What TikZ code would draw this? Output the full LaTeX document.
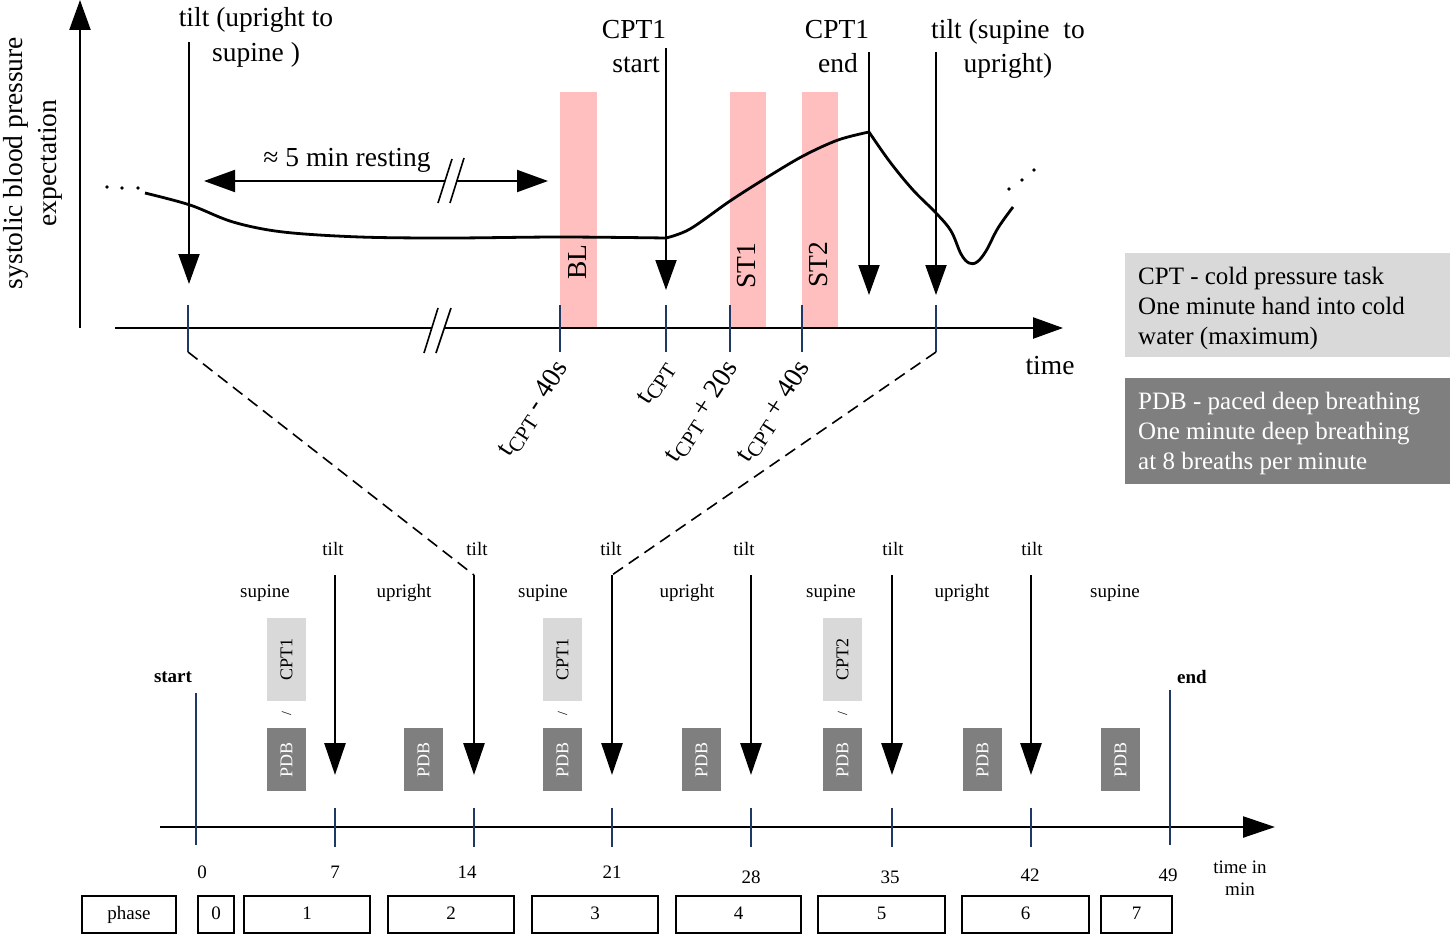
\documentclass[tikz,border=0pt]{standalone}
\usepackage{fontspec}
\setmainfont{Liberation Serif}
\usetikzlibrary{arrows.meta}
\definecolor{navy}{HTML}{1F3864}
\definecolor{pinkbar}{HTML}{FFBFBF}
\definecolor{lgray}{HTML}{D9D9D9}
\definecolor{dgray}{HTML}{7F7F7F}
\newcommand{\tcptsub}{t\raisebox{-5pt}{\fontsize{21}{21}\selectfont CPT}}
\begin{document}
\begin{tikzpicture}[x=1pt,y=-1pt,
  big/.style={font=\fontsize{27.5}{34}\selectfont, inner sep=0pt},
  leg/.style={font=\fontsize{25}{30}\selectfont, inner sep=0pt, anchor=base west},
  sm/.style={font=\fontsize{19}{23}\selectfont, inner sep=0pt},
  axisline/.style={line width=2.4pt},
  tiph/.style={-{Triangle[length=30pt,width=21pt]}},
  tickl/.style={navy, line width=2.4pt},
  downarr/.style={line width=2pt, -{Triangle[length=30pt,width=21pt]}},
  bigdown/.style={line width=2.8pt, -{Triangle[length=32pt,width=21pt]}},
  brk/.style={line width=1.6pt},
  dashline/.style={line width=1.6pt, dash pattern=on 12pt off 7pt},
  cptbox/.style={fill=lgray, rotate=90, minimum width=83pt, minimum height=39pt, inner sep=0pt, font=\fontsize{18}{22}\selectfont},
  pdbbox/.style={fill=dgray, text=white, rotate=90, minimum width=63pt, minimum height=39pt, inner sep=0pt, font=\fontsize{18}{22}\selectfont},
  phasebox/.style={draw, line width=1.4pt, minimum height=37pt, inner sep=0pt, text height=13pt, text depth=4pt, font=\fontsize{19}{23}\selectfont},
  ticklab/.style={big, rotate=57, anchor=east}
]
\useasboundingbox (0,0) rectangle (1450,934);

% ---------- top panel ----------
\fill[pinkbar] (560,92) rectangle (597,328);
\fill[pinkbar] (730,92) rectangle (766,328);
\fill[pinkbar] (802,92) rectangle (838,328);
\node[big, rotate=90] (bl) at (578,262) {BL};
\node[big, rotate=90] (st1) at (747,266) {ST1};
\node[big, rotate=90] (st2) at (819,265) {ST2};

% y axis
\coordinate (y0) at (80,328);
\coordinate (y1) at (80,0);
\draw[axisline,tiph] (y0) -- (y1);
\node[big, rotate=90, align=center] (ylab) at (33,163) {systolic blood pressure\\expectation};

% x axis with break
\coordinate (xa) at (115,328);
\coordinate (xb) at (432,328);
\coordinate (xc) at (445,328);
\coordinate (xd) at (1063,328);
\draw[axisline] (xa) -- (xb);
\draw[axisline,tiph] (xc) -- (xd);
\draw[brk] (424,353) -- (438,308) (436,353) -- (451,308);
\node[big, anchor=base] (timelab) at (1050,374) {time};

% ticks
\foreach \x/\n in {188/a,560/b,666/c,730/d,802/e,936/f}
  \draw[tickl] (\x,305) -- (\x,352) coordinate (tk\n);

% tick labels
\node[ticklab] (lb) at (563,364) {\tcptsub{} - 40s};
\node[ticklab] (lc) at (669,364) {\tcptsub};
\node[ticklab] (ld) at (733,364) {\tcptsub{} + 20s};
\node[ticklab] (le) at (805,364) {\tcptsub{} + 40s};

% event arrows
\coordinate (ea0) at (189,42);  \coordinate (ea1) at (189,284);
\coordinate (eb0) at (666,48);  \coordinate (eb1) at (666,290);
\coordinate (ec0) at (869,52);  \coordinate (ec1) at (869,295);
\coordinate (ed0) at (936,52);  \coordinate (ed1) at (936,295);
\draw[downarr] (ea0) -- (ea1);
\draw[downarr] (eb0) -- (eb1);
\draw[downarr] (ec0) -- (ec1);
\draw[downarr] (ed0) -- (ed1);

\node[big, anchor=base] (t1a) at (256,27) {tilt (upright to};
\node[big, anchor=base] (t1b) at (256,62) {supine )};
\node[big, anchor=base] (c1a) at (634,38) {CPT1};
\node[big, anchor=base] (c1b) at (636,73) {start};
\node[big, anchor=base] (c2a) at (837,38) {CPT1};
\node[big, anchor=base] (c2b) at (838,73) {end};
\node[big, anchor=base] (t2a) at (1008,38) {tilt (supine~~to};
\node[big, anchor=base] (t2b) at (1008,73) {upright)};

% resting arrow
\coordinate (r1) at (204,181);
\coordinate (r2) at (445,181);
\coordinate (r3) at (457,181);
\coordinate (r4) at (548,181);
\draw[line width=2pt, {Triangle[length=31pt,width=22pt]}-] (r1) -- (r2);
\draw[line width=2pt, -{Triangle[length=31pt,width=22pt]}] (r3) -- (r4);
\draw[brk] (438,203) -- (452,159) (450,203) -- (464,158);
\node[big, anchor=base] (rest) at (347,166) {≈ 5 min resting};

% blood pressure curve
\draw[line width=2.8pt, line join=round]
  plot[smooth, tension=0.55] coordinates {(145,193) (190,205) (233,222) (283,232) (360,237) (450,238) (560,237) (666,238)}
  -- plot[smooth, tension=0.55] coordinates {(666,238) (690,229) (730,201) (766,178) (803,156) (838,140) (869,132)}
  -- plot[smooth, tension=0.6] coordinates {(869,132) (890,162) (913,190) (936,213) (951,231) (961,254) (969,263) (977,262) (986,251) (998,228) (1013,207)};
\foreach \p in {(107,187),(122,188),(138,188),(1009,189),(1022,180),(1034,170)}
  \fill \p circle (1.8);

% legend
\fill[lgray] (1125,253) rectangle (1450,357);
\fill[dgray] (1125,378) rectangle (1450,484);
\node[leg] (lg1) at (1138,284) {CPT - cold pressure task};
\node[leg] (lg2) at (1138,314) {One minute hand into cold};
\node[leg] (lg3) at (1138,344) {water (maximum)};
\node[leg, text=white] (lg4) at (1138,409) {PDB - paced deep breathing};
\node[leg, text=white] (lg5) at (1138,439) {One minute deep breathing};
\node[leg, text=white] (lg6) at (1138,469) {at 8 breaths per minute};

% ---------- bottom panel ----------
\coordinate (ba) at (160,827);
\coordinate (bb) at (1275,827);
\draw[axisline, -{Triangle[length=32pt,width=21pt]}] (ba) -- (bb);
\draw[tickl] (196,693) -- (196,845);
\draw[tickl] (1170,690) -- (1170,845);
\foreach \x in {335,474,612,751,892,1031}
  \draw[tickl] (\x,808) -- (\x,847);
\node[sm, font=\fontsize{19}{23}\selectfont\bfseries, anchor=base] (startlab) at (173,682) {start};
\node[sm, font=\fontsize{19}{23}\selectfont\bfseries, anchor=base] (endlab) at (1192,683) {end};

% tilt arrows
\foreach \x/\n in {335/1,474/2,612/3,751/4,892/5,1031/6} {
  \coordinate (ta\n) at (\x,575);
  \coordinate (tb\n) at (\x,775);
  \draw[bigdown] (ta\n) -- (tb\n);
}
\foreach \x/\n in {333/1,477/2,611/3,744/4,893/5,1032/6}
  \node[sm, anchor=base] (tl\n) at (\x,555) {tilt};
\node[sm, anchor=base] (p1) at (265,597) {supine};
\node[sm, anchor=base] (p2) at (404,597) {upright};
\node[sm, anchor=base] (p3) at (543,597) {supine};
\node[sm, anchor=base] (p4) at (687,597) {upright};
\node[sm, anchor=base] (p5) at (831,597) {supine};
\node[sm, anchor=base] (p6) at (962,597) {upright};
\node[sm, anchor=base] (p7) at (1115,597) {supine};

% dashed zoom connectors
\draw[dashline] (tka) -- (ta2);
\draw[dashline] (tkf) -- (ta3);

% CPT / PDB boxes
\node[cptbox] (cpa) at (286.5,659.5) {CPT1};
\node[cptbox] (cpb) at (562.5,659.5) {CPT1};
\node[cptbox] (cpc) at (842.5,659.5) {CPT2};
\foreach \x/\n in {286.5/a,562.5/c,842.5/e}
  \node[sm, font=\fontsize{14}{16}\selectfont, rotate=90] (sl\n) at (\x,714) {/};
\foreach \x/\n in {286.5/a,423.5/b,562.5/c,701.5/d,842.5/e,982.5/f,1120.5/g}
  \node[pdbbox] (pdb\n) at (\x,759.5) {PDB};

% time numbers
\node[sm, anchor=base] (n0) at (202,878) {0};
\node[sm, anchor=base] (n7) at (335,878) {7};
\node[sm, anchor=base] (n14) at (467,878) {14};
\node[sm, anchor=base] (n21) at (612,878) {21};
\node[sm, anchor=base] (n28) at (751,883) {28};
\node[sm, anchor=base] (n35) at (890,883) {35};
\node[sm, anchor=base] (n42) at (1030,881) {42};
\node[sm, anchor=base] (n49) at (1168,881) {49};
\node[sm, anchor=base] (tm1) at (1240,873) {time in};
\node[sm, anchor=base] (tm2) at (1240,895) {min};

% phase boxes
\node[phasebox, minimum width=94pt]  (ph)  at (129,914.5) {phase};
\node[phasebox, minimum width=36pt]  (ph0) at (216,914.5) {0};
\node[phasebox, minimum width=126pt] (ph1) at (307,914.5) {1};
\node[phasebox, minimum width=126pt] (ph2) at (451,914.5) {2};
\node[phasebox, minimum width=126pt] (ph3) at (595,914.5) {3};
\node[phasebox, minimum width=125pt] (ph4) at (738.5,914.5) {4};
\node[phasebox, minimum width=127pt] (ph5) at (881.5,914.5) {5};
\node[phasebox, minimum width=127pt] (ph6) at (1025.5,914.5) {6};
\node[phasebox, minimum width=71pt]  (ph7) at (1136.5,914.5) {7};
\end{tikzpicture}
\end{document}
